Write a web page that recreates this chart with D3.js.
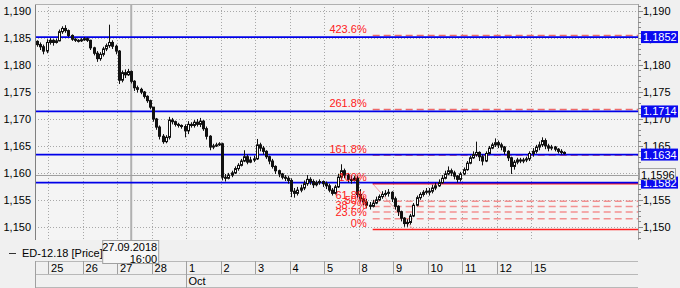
<!DOCTYPE html>
<html>
<head>
<meta charset="utf-8">
<script src="https://cdn.jsdelivr.net/npm/d3@7"></script>
<style>
  body { margin: 0; background: #f0f0f0; }
  svg { display: block; font-family: "Liberation Sans", Arial, sans-serif; font-size: 11px; }
</style>
</head>
<body>
<svg id="chart" width="680" height="288"></svg>
<script>
// trading days shown on the axis (the 24th is only partly visible)
var dayLabels = ["24","25","26","27","28","1","2","3","4","5","8","9","10","11","12","15"];
var monthNames = ["Oct"];
var monthStartDay = ["1"];
var barsPerDay = 11;
var firstSlot = 7; // first visible bar of the 24th

var firstOpen = 1.1844;
var closes = [
  1.1838, 1.1834, 1.1826, 1.1842,
  1.1846, 1.1842, 1.1845, 1.1862, 1.1868, 1.1864, 1.1855, 1.1848, 1.1846, 1.1845, 1.1847,
  1.1849, 1.1846, 1.1832, 1.1822, 1.1812, 1.1820, 1.1830, 1.1836, 1.1842, 1.1835, 1.1826,
  1.1772, 1.1786, 1.1782, 1.1788, 1.1770, 1.1758, 1.1755, 1.1750, 1.1742, 1.1734, 1.1722,
  1.1700, 1.1685, 1.1668, 1.1658, 1.1666, 1.1698, 1.1695, 1.1690, 1.1688, 1.1686, 1.1678,
  1.1690, 1.1688, 1.1694, 1.1690, 1.1696, 1.1682, 1.1668, 1.1648, 1.1650, 1.1652, 1.1654,
  1.1592, 1.1590, 1.1596, 1.1600, 1.1608, 1.1614, 1.1622, 1.1630, 1.1620, 1.1624, 1.1626,
  1.1652, 1.1646, 1.1640, 1.1630, 1.1622, 1.1612, 1.1604, 1.1598, 1.1592, 1.1590, 1.1586,
  1.1566, 1.1562, 1.1568, 1.1572, 1.1580, 1.1588, 1.1584, 1.1578, 1.1582, 1.1584, 1.1580,
  1.1576, 1.1568, 1.1562, 1.1574, 1.1592, 1.1604, 1.1596, 1.1588, 1.1586, 1.1590, 1.1560,
  1.1552, 1.1546, 1.1540, 1.1538, 1.1544, 1.1550, 1.1556, 1.1560, 1.1562, 1.1564, 1.1552,
  1.1538, 1.1528, 1.1516, 1.1506, 1.1508, 1.1520, 1.1540, 1.1554, 1.1560, 1.1564, 1.1566,
  1.1566, 1.1572, 1.1576, 1.1582, 1.1590, 1.1598, 1.1604, 1.1600, 1.1594, 1.1588, 1.1598,
  1.1606, 1.1618, 1.1628, 1.1634, 1.1638, 1.1630, 1.1622, 1.1636, 1.1646, 1.1652, 1.1656,
  1.1652, 1.1648, 1.1640, 1.1628, 1.1612, 1.1620, 1.1624, 1.1622, 1.1624, 1.1626, 1.1636,
  1.1640, 1.1648, 1.1652, 1.1660, 1.1650, 1.1646, 1.1648, 1.1644, 1.1640, 1.1638, 1.1636
];
var highs = [
  1.1846, 1.1842, 1.1838, 1.1848,
  1.1850, 1.1848, 1.1849, 1.1866, 1.1872, 1.1874, 1.1866, 1.1857, 1.1850, 1.1848, 1.1850,
  1.1852, 1.1851, 1.1847, 1.1834, 1.1826, 1.1824, 1.1834, 1.1840, 1.1875, 1.1846, 1.1838,
  1.1828, 1.1790, 1.1792, 1.1793, 1.1790, 1.1772, 1.1762, 1.1758, 1.1752, 1.1744, 1.1736,
  1.1722, 1.1702, 1.1688, 1.1672, 1.1670, 1.1704, 1.1702, 1.1697, 1.1693, 1.1690, 1.1690,
  1.1696, 1.1694, 1.1698, 1.1700, 1.1702, 1.1698, 1.1686, 1.1670, 1.1654, 1.1656, 1.1657,
  1.1656, 1.1598, 1.1600, 1.1604, 1.1612, 1.1618, 1.1626, 1.1642, 1.1634, 1.1630, 1.1632,
  1.1663, 1.1656, 1.1650, 1.1642, 1.1632, 1.1626, 1.1614, 1.1606, 1.1600, 1.1596, 1.1594,
  1.1590, 1.1572, 1.1574, 1.1578, 1.1586, 1.1596, 1.1592, 1.1588, 1.1586, 1.1588, 1.1586,
  1.1584, 1.1580, 1.1572, 1.1578, 1.1598, 1.1616, 1.1608, 1.1600, 1.1594, 1.1594, 1.1594,
  1.1570, 1.1556, 1.1552, 1.1546, 1.1550, 1.1556, 1.1560, 1.1566, 1.1568, 1.1570, 1.1566,
  1.1556, 1.1540, 1.1530, 1.1518, 1.1514, 1.1524, 1.1544, 1.1558, 1.1564, 1.1568, 1.1572,
  1.1572, 1.1578, 1.1582, 1.1588, 1.1596, 1.1604, 1.1612, 1.1608, 1.1604, 1.1596, 1.1602,
  1.1610, 1.1622, 1.1632, 1.1640, 1.1658, 1.1640, 1.1634, 1.1640, 1.1650, 1.1656, 1.1664,
  1.1660, 1.1656, 1.1650, 1.1642, 1.1630, 1.1624, 1.1628, 1.1628, 1.1628, 1.1630, 1.1640,
  1.1646, 1.1652, 1.1658, 1.1666, 1.1664, 1.1654, 1.1652, 1.1650, 1.1646, 1.1644, 1.1640
];
var lows = [
  1.1834, 1.1828, 1.1820, 1.1822,
  1.1838, 1.1836, 1.1840, 1.1844, 1.1858, 1.1860, 1.1852, 1.1845, 1.1843, 1.1842, 1.1843,
  1.1845, 1.1843, 1.1828, 1.1818, 1.1806, 1.1808, 1.1816, 1.1826, 1.1832, 1.1830, 1.1820,
  1.1765, 1.1768, 1.1776, 1.1780, 1.1766, 1.1752, 1.1749, 1.1746, 1.1738, 1.1730, 1.1718,
  1.1695, 1.1680, 1.1662, 1.1654, 1.1655, 1.1662, 1.1690, 1.1686, 1.1684, 1.1682, 1.1666,
  1.1672, 1.1684, 1.1684, 1.1686, 1.1685, 1.1678, 1.1662, 1.1642, 1.1644, 1.1648, 1.1650,
  1.1586, 1.1584, 1.1588, 1.1592, 1.1598, 1.1604, 1.1612, 1.1620, 1.1616, 1.1618, 1.1620,
  1.1624, 1.1640, 1.1634, 1.1626, 1.1616, 1.1608, 1.1598, 1.1592, 1.1588, 1.1585, 1.1580,
  1.1555, 1.1554, 1.1558, 1.1564, 1.1568, 1.1576, 1.1578, 1.1572, 1.1575, 1.1578, 1.1574,
  1.1570, 1.1564, 1.1558, 1.1560, 1.1572, 1.1588, 1.1590, 1.1582, 1.1580, 1.1584, 1.1554,
  1.1546, 1.1540, 1.1534, 1.1532, 1.1536, 1.1542, 1.1548, 1.1552, 1.1556, 1.1556, 1.1546,
  1.1532, 1.1520, 1.1510, 1.1500, 1.1500, 1.1504, 1.1518, 1.1538, 1.1550, 1.1556, 1.1560,
  1.1558, 1.1562, 1.1568, 1.1574, 1.1580, 1.1588, 1.1596, 1.1594, 1.1588, 1.1582, 1.1584,
  1.1596, 1.1604, 1.1616, 1.1626, 1.1630, 1.1622, 1.1614, 1.1620, 1.1634, 1.1644, 1.1648,
  1.1646, 1.1642, 1.1634, 1.1622, 1.1598, 1.1606, 1.1616, 1.1618, 1.1618, 1.1620, 1.1622,
  1.1630, 1.1636, 1.1642, 1.1648, 1.1644, 1.1640, 1.1642, 1.1640, 1.1636, 1.1634, 1.1634
];

// user drawn horizontal lines
var levelLines = [1.1852, 1.1714, 1.1634, 1.1582];

// fibonacci tool
var fibRatios = [0, 0.236, 0.382, 0.5, 0.618, 1, 1.618, 2.618, 4.236];
var fibLabels = ["0%", "23.6%", "38.2%", "50%", "61.8%", "100%", "161.8%", "261.8%", "423.6%"];
var fibLow = 1.1495, fibHigh = 1.1580;
var fibStartDay = "8", fibStartSlot = 4;
var fibEndDay = "9", fibEndSlot = 6;

// crosshair
var crossDay = "27", crossSlot = 4, crossPrice = 1.1596;
var crossDate = "27.09.2018", crossTime = "16:00";

var yTicks = [1.150, 1.155, 1.160, 1.165, 1.170, 1.175, 1.180, 1.185, 1.190];
var seriesName = "ED-12.18 [Price]";

var svg = d3.select("#chart");
var pLeft = 35, pRight = 638, pTop = 4, pBottom = 240;

var x = d3.scaleLinear().domain([0.62, 18.1]).range([pLeft, pRight]);
var y = d3.scaleLinear().domain([1.15, 1.19]).range([226.8, 11.2]);
var comma = function(v, f) { return d3.format(f)(v).replace(".", ","); };

function barX(dayIdx, slot) { return x(dayIdx + (slot + 0.5) / barsPerDay); }

var bars = closes.map(function(c, i) {
  var k = i + firstSlot;
  var o = i === 0 ? firstOpen : closes[i - 1];
  return {
    day: Math.floor(k / barsPerDay), slot: k % barsPerDay,
    o: o, c: c,
    h: Math.max(highs[i], o, c), l: Math.min(lows[i], o, c)
  };
});

// plot background
svg.append("rect").attr("x", pLeft).attr("y", pTop).attr("width", pRight - pLeft).attr("height", pBottom - pTop)
  .attr("fill", "#f4f4f4");

svg.append("defs").append("clipPath").attr("id", "clip")
  .append("rect").attr("x", pLeft).attr("y", pTop).attr("width", pRight - pLeft).attr("height", pBottom - pTop);

// grid
svg.append("g").selectAll("line").data(yTicks).enter().append("line")
  .attr("x1", pLeft).attr("x2", pRight)
  .attr("y1", function(d) { return Math.round(y(d)) + 0.5; })
  .attr("y2", function(d) { return Math.round(y(d)) + 0.5; })
  .attr("stroke", "#a8a8a8").attr("stroke-dasharray", "1,2");

var gridDays = d3.range(1, dayLabels.length);
svg.append("g").selectAll("line").data(gridDays).enter().append("line")
  .attr("x1", function(d) { return Math.round(x(d)) + 0.5; })
  .attr("x2", function(d) { return Math.round(x(d)) + 0.5; })
  .attr("y1", pTop).attr("y2", pBottom)
  .attr("stroke", "#a8a8a8").attr("stroke-dasharray", "1,2");

var plot = svg.append("g").attr("clip-path", "url(#clip)");

// crosshair
var cx = barX(dayLabels.indexOf(crossDay), crossSlot);
plot.append("line")
  .attr("x1", cx).attr("x2", cx).attr("y1", pTop).attr("y2", pBottom)
  .attr("stroke", "#b0b0b0").attr("stroke-width", 2);
plot.append("line")
  .attr("x1", pLeft).attr("x2", pRight)
  .attr("y1", Math.round(y(crossPrice)) + 0.5).attr("y2", Math.round(y(crossPrice)) + 0.5)
  .attr("stroke", "#a0a0a0");

// fibonacci
var fx1 = barX(dayLabels.indexOf(fibStartDay), fibStartSlot);
var fx2 = barX(dayLabels.indexOf(fibEndDay), fibEndSlot);
var fibs = fibRatios.map(function(r, i) {
  return { r: r, label: fibLabels[i], v: fibLow + (fibHigh - fibLow) * r };
});
plot.append("line")
  .attr("x1", fx1).attr("y1", y(fibHigh)).attr("x2", fx2).attr("y2", y(fibLow))
  .attr("stroke", "#f4a0a0").attr("stroke-width", 1);

plot.append("g").selectAll("line").data(fibs).enter().append("line")
  .attr("x1", fx1).attr("x2", pRight)
  .attr("y1", function(d) { return y(d.v); }).attr("y2", function(d) { return y(d.v); })
  .attr("stroke", function(d) {
    if (d.r === 0 || d.r === 1) return "#ff2020";
    return d.r > 1 ? "#ee6a6a" : "#f39090";
  })
  .attr("stroke-width", 1.5)
  .attr("stroke-dasharray", function(d) { return (d.r === 0 || d.r === 1) ? null : "7,4"; });

// level lines
plot.append("g").selectAll("line").data(levelLines).enter().append("line")
  .attr("x1", pLeft).attr("x2", pRight)
  .attr("y1", function(d) { return y(d); }).attr("y2", function(d) { return y(d); })
  .attr("stroke", "#0000e8").attr("stroke-width", 1.8);

// candles
var candle = plot.append("g").selectAll("g").data(bars).enter().append("g");
candle.append("line")
  .attr("x1", function(d) { return Math.round(barX(d.day, d.slot)) + 0.5; })
  .attr("x2", function(d) { return Math.round(barX(d.day, d.slot)) + 0.5; })
  .attr("y1", function(d) { return y(d.h); })
  .attr("y2", function(d) { return y(d.l); })
  .attr("stroke", "#111");
candle.append("rect")
  .attr("x", function(d) { return Math.round(barX(d.day, d.slot)) - 0.5; })
  .attr("width", 2)
  .attr("y", function(d) { return y(Math.max(d.o, d.c)); })
  .attr("height", function(d) { return Math.max(1, Math.abs(y(d.o) - y(d.c))); })
  .attr("fill", function(d) { return d.c >= d.o ? "#fff" : "#111"; })
  .attr("stroke", "#111").attr("stroke-width", 1);

// fibonacci labels
svg.append("g").selectAll("text").data(fibs).enter().append("text")
  .attr("x", fx1 - 6).attr("y", function(d) { return y(d.v) - 2.5; })
  .attr("text-anchor", "end").attr("fill", "#ff2020")
  .text(function(d) { return d.label; });

// frame
svg.append("line").attr("x1", pLeft + 0.5).attr("x2", pLeft + 0.5).attr("y1", pTop).attr("y2", pBottom).attr("stroke", "#808080");
svg.append("line").attr("x1", pLeft).attr("x2", pRight).attr("y1", pTop + 0.5).attr("y2", pTop + 0.5).attr("stroke", "#b0b0b0");
svg.append("line").attr("x1", pRight + 0.5).attr("x2", pRight + 0.5).attr("y1", pTop).attr("y2", pBottom).attr("stroke", "#a0a0a0");

// y axes
var yAll = d3.range(1148, 1192).map(function(d) { return d / 1000; }).filter(function(d) { return y(d) > pTop && y(d) < pBottom; });
svg.append("g").selectAll("line").data(yAll).enter().append("line")
  .attr("x1", pRight).attr("x2", function(d) { return yTicks.some(function(t) { return Math.abs(t - d) < 1e-6; }) ? pRight + 5 : pRight + 3; })
  .attr("y1", function(d) { return Math.round(y(d)) + 0.5; })
  .attr("y2", function(d) { return Math.round(y(d)) + 0.5; })
  .attr("stroke", "#888");

svg.append("g").selectAll("text").data(yTicks).enter().append("text")
  .attr("x", pLeft - 4).attr("y", function(d) { return y(d) + 4; })
  .attr("text-anchor", "end").text(function(d) { return comma(d, ".3f"); });
svg.append("g").selectAll("text").data(yTicks).enter().append("text")
  .attr("x", pRight + 5).attr("y", function(d) { return y(d) + 4; })
  .text(function(d) { return comma(d, ".3f"); });

// right value labels
var lv = svg.append("g").selectAll("g").data(levelLines).enter().append("g");
lv.append("rect").attr("x", pRight + 3).attr("width", 37).attr("height", 12)
  .attr("y", function(d) { return y(d) - 6; }).attr("fill", "#0a0af0");
lv.append("text").attr("x", pRight + 5).attr("y", function(d) { return y(d) + 4; })
  .attr("fill", "#fff").text(function(d) { return d3.format(".4f")(d); });

svg.append("rect").attr("x", pRight + 1.5).attr("y", y(crossPrice) - 6.5).attr("width", 36).attr("height", 11)
  .attr("fill", "#f4f4f4").attr("stroke", "#a0a0a0");
svg.append("text").attr("x", pRight + 3).attr("y", y(crossPrice) + 3.5).text(comma(crossPrice, ".4f"));

// legend
svg.append("line").attr("x1", 9).attr("x2", 16).attr("y1", 253.5).attr("y2", 253.5).attr("stroke", "#333");
svg.append("text").attr("x", 22).attr("y", 257).text(seriesName);

// time axis rows
var axisG = svg.append("g");
[261.5, 274.5, 287.5].forEach(function(yy) {
  axisG.append("line").attr("x1", pLeft).attr("x2", pRight).attr("y1", yy).attr("y2", yy).attr("stroke", "#b8b8b8");
});
axisG.append("line").attr("x1", pLeft + 0.5).attr("x2", pLeft + 0.5).attr("y1", 261).attr("y2", 288).attr("stroke", "#a0a0a0");
axisG.selectAll(".sep").data(gridDays).enter().append("line")
  .attr("x1", function(d) { return Math.round(x(d)) + 0.5; })
  .attr("x2", function(d) { return Math.round(x(d)) + 0.5; })
  .attr("y1", 261).attr("y2", 274).attr("stroke", "#a0a0a0");
axisG.selectAll(".day").data(gridDays).enter().append("text")
  .attr("x", function(d) { return x(d) + 3; }).attr("y", 272)
  .text(function(d) { return dayLabels[d]; });
monthNames.forEach(function(m, i) {
  var xm = Math.round(x(dayLabels.indexOf(monthStartDay[i]))) + 0.5;
  axisG.append("line").attr("x1", xm).attr("x2", xm).attr("y1", 274).attr("y2", 288).attr("stroke", "#a0a0a0");
  axisG.append("text").attr("x", xm + 2).attr("y", 285).text(m);
});

// crosshair time tooltip
svg.append("rect").attr("x", cx - 28.5).attr("y", 240.5).attr("width", 56).attr("height", 23)
  .attr("fill", "#f6f6f6").attr("stroke", "#a0a0a0");
svg.append("text").attr("x", cx + 26).attr("y", 251).attr("text-anchor", "end").text(crossDate);
svg.append("text").attr("x", cx + 26).attr("y", 262.5).attr("text-anchor", "end").text(crossTime);
</script>
</body>
</html>
